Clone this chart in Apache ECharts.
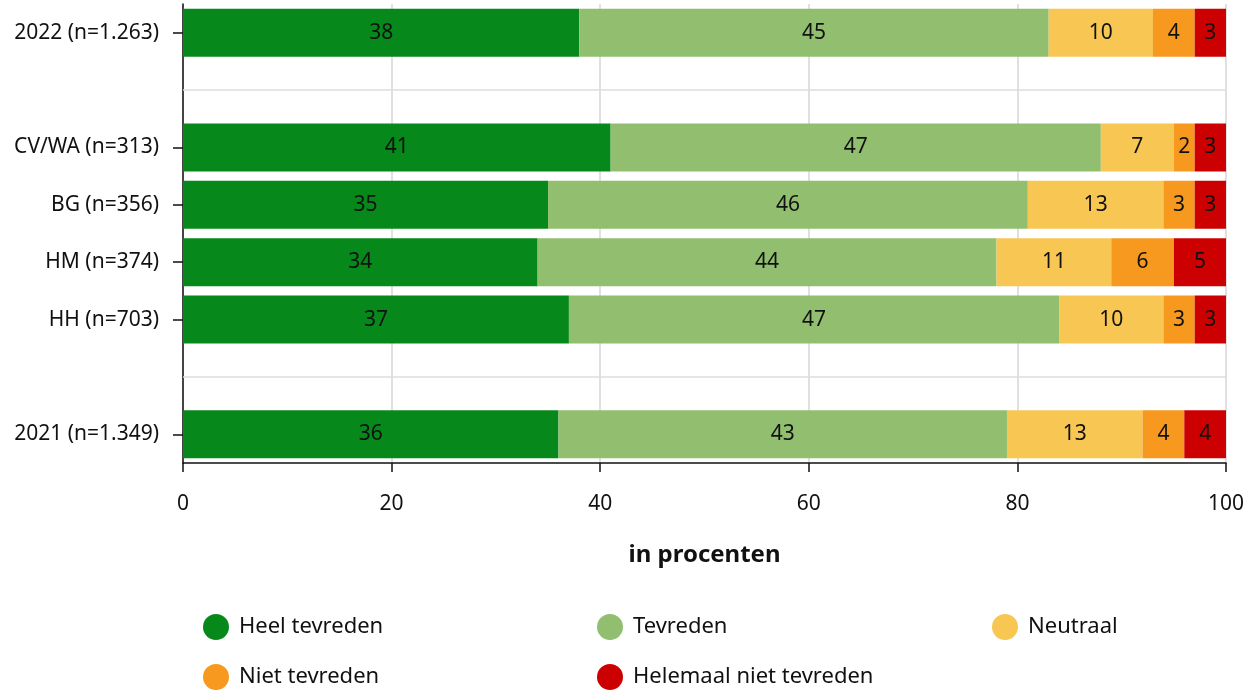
<!DOCTYPE html>
<html>
<head>
<meta charset="utf-8">
<script src="https://cdn.jsdelivr.net/npm/echarts@6/dist/echarts.min.js"></script>
<style>
  html, body { margin: 0; padding: 0; background: #fff; }
  #chart { width: 1254px; height: 691px; }
</style>
</head>
<body>
<div id="chart"></div>
<script>
// Rows from top to bottom; the blank entries are spacer rows
const categories = ['2022 (n=1.263)', '', 'CV/WA (n=313)', 'BG (n=356)', 'HM (n=374)', 'HH (n=703)', ' ', '2021 (n=1.349)'];
const spacerRows = [1, 6];

const heelTevreden      = [38, null, 41, 35, 34, 37, null, 36];
const tevreden          = [45, null, 47, 46, 44, 47, null, 43];
const neutraal          = [10, null, 7, 13, 11, 10, null, 13];
const nietTevreden      = [4, null, 2, 3, 6, 3, null, 4];
const helemaalNiet      = [3, null, 3, 3, 5, 3, null, 4];

const seriesNames  = ['Heel tevreden', 'Tevreden', 'Neutraal', 'Niet tevreden', 'Helemaal niet tevreden'];
const seriesData   = [heelTevreden, tevreden, neutraal, nietTevreden, helemaalNiet];
const seriesColors = ['#06891a', '#92bf6f', '#f8c653', '#f7991f', '#cc0000'];

const xTicks = [0, 20, 40, 60, 80, 100];

const FONT = '"Noto Sans", "Open Sans", sans-serif';
const FS = 21;

// legend grid: three columns, two rows
const legendCols = [203, 597, 992];
const legendRows = [614, 664];

const chart = echarts.init(document.getElementById('chart'), null, { renderer: 'canvas' });

const series = seriesNames.map((name, i) => ({
  name: name,
  type: 'bar',
  stack: 'total',
  data: seriesData[i],
  barWidth: 48,
  itemStyle: { color: seriesColors[i] },
  label: {
    show: true,
    position: 'inside',
    color: '#111',
    fontFamily: FONT,
    fontSize: FS,
    formatter: p => (p.value == null ? '' : String(p.value))
  },
  emphasis: { disabled: true },
  markLine: i === 0 ? {
    silent: true,
    symbol: 'none',
    label: { show: false },
    lineStyle: { color: '#dcdcdc', type: 'solid', width: 1.5 },
    data: spacerRows.map(r => ({ yAxis: r }))
  } : undefined
}));

const legends = seriesNames.map((name, i) => ({
  orient: 'horizontal',
  icon: 'circle',
  itemWidth: 26,
  itemHeight: 26,
  left: legendCols[i % 3],
  top: legendRows[Math.floor(i / 3)],
  padding: 0,
  selectedMode: false,
  data: [name],
  textStyle: {
    fontFamily: FONT,
    fontSize: 22,
    color: '#111',
    padding: [0, 0, 0, 5]
  }
}));

chart.setOption({
  animation: false,
  textStyle: { fontFamily: FONT },
  grid: { left: 183, right: 28, top: 4, height: 459, containLabel: false },
  legend: legends,
  xAxis: {
    type: 'value',
    min: xTicks[0],
    max: xTicks[xTicks.length - 1],
    interval: 20,
    name: 'in procenten',
    nameLocation: 'middle',
    nameGap: 80,
    nameTextStyle: { fontFamily: FONT, fontSize: 24, fontWeight: 'bold', color: '#111' },
    axisLine: { show: true, lineStyle: { color: '#111', width: 1.5 } },
    axisTick: { show: true, length: 9, lineStyle: { color: '#111', width: 1.5 } },
    axisLabel: { margin: 31, fontSize: FS, color: '#111', fontFamily: FONT },
    splitLine: { show: true, lineStyle: { color: '#d6d6d6', width: 1.5 } }
  },
  yAxis: {
    type: 'category',
    data: categories,
    inverse: true,
    axisLine: { show: true, lineStyle: { color: '#111', width: 1.5 } },
    axisTick: {
      show: true,
      alignWithLabel: true,
      length: 10,
      lineStyle: { color: '#111', width: 1.5 },
      interval: (idx) => spacerRows.indexOf(idx) === -1
    },
    axisLabel: { margin: 24, fontSize: FS, color: '#111', fontFamily: FONT, interval: 0 },
    splitLine: { show: false }
  },
  series: series
});
</script>
</body>
</html>
